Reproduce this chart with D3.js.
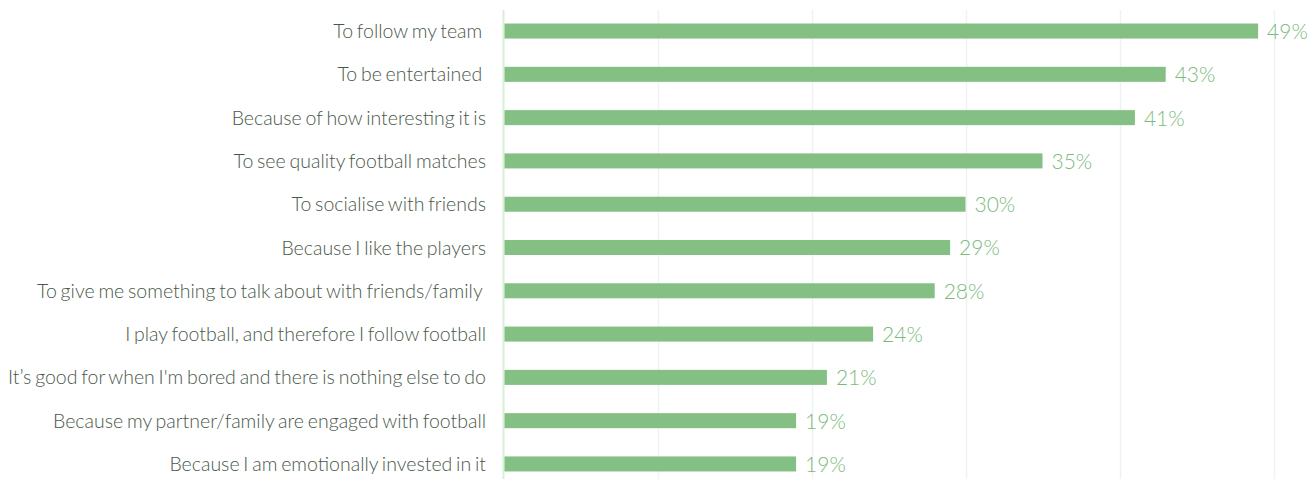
<!DOCTYPE html>
<html><head><meta charset="utf-8">
<script src="https://cdn.jsdelivr.net/npm/d3@7"></script>
<style>
body{margin:0;background:#fff;}
svg{display:block;}
text{white-space:pre;}
</style></head>
<body>
<svg id="chart" width="1309" height="479"></svg>
<script>
const categories = [
  "To follow my team ",
  "To be entertained ",
  "Because of how interesting it is",
  "To see quality football matches",
  "To socialise with friends",
  "Because I like the players",
  "To give me something to talk about with friends/family ",
  "I play football, and therefore I follow football",
  "It\u2019s good for when I'm bored and there is nothing else to do",
  "Because my partner/family are engaged with football",
  "Because I am emotionally invested in it"
];
const values = [49, 43, 41, 35, 30, 29, 28, 24, 21, 19, 19];
const ticks = [0, 10, 20, 30, 40, 50];

const svg = d3.select("#chart");
const x0 = 503.5, x1 = 1273.5;
const x = d3.scaleLinear().domain([0, 50]).range([x0, x1]);
const y = d3.scaleBand().domain(categories).range([9.4, 485.6]).paddingInner(0.653).paddingOuter(0.3265);

// gridlines
svg.append("g").selectAll("line").data(ticks.slice(1)).join("line")
  .attr("x1", d => Math.round(x(d)) + 0.5).attr("x2", d => Math.round(x(d)) + 0.5)
  .attr("y1", 10).attr("y2", 479)
  .attr("stroke", "#eef3f1").attr("stroke-width", 1.5);

// axis line
svg.append("line").attr("x1", x0).attr("x2", x0).attr("y1", 10).attr("y2", 479)
  .attr("stroke", "#d8efd6").attr("stroke-width", 2);

// bars
svg.append("g").selectAll("rect").data(values).join("rect")
  .attr("x", x(0) + 1)
  .attr("y", (d, i) => y(categories[i]))
  .attr("width", d => x(d) - x(0) - 1)
  .attr("height", y.bandwidth())
  .attr("fill", "#84bf84");

// value labels
svg.append("g").selectAll("text").data(values).join("text")
  .attr("x", d => x(d) + 9)
  .attr("y", (d, i) => y(categories[i]) + y.bandwidth() / 2)
  .attr("dy", "0.38em")
  .attr("font-family", "Lato")
  .attr("font-weight", 300)
  .attr("font-size", 21)
  .attr("fill", "#7cba7c")
  .text(d => d + "%");

// category labels
svg.append("g").selectAll("text").data(categories).join("text")
  .attr("x", 486)
  .attr("y", d => y(d) + y.bandwidth() / 2)
  .attr("dy", "0.36em")
  .attr("text-anchor", "end")
  .attr("font-family", "Lato")
  .attr("font-weight", 300)
  .attr("font-size", 19.5)
  .attr("word-spacing", -1.5)
  .attr("fill", "#4a584a")
  .text(d => d);
</script>
</body></html>
